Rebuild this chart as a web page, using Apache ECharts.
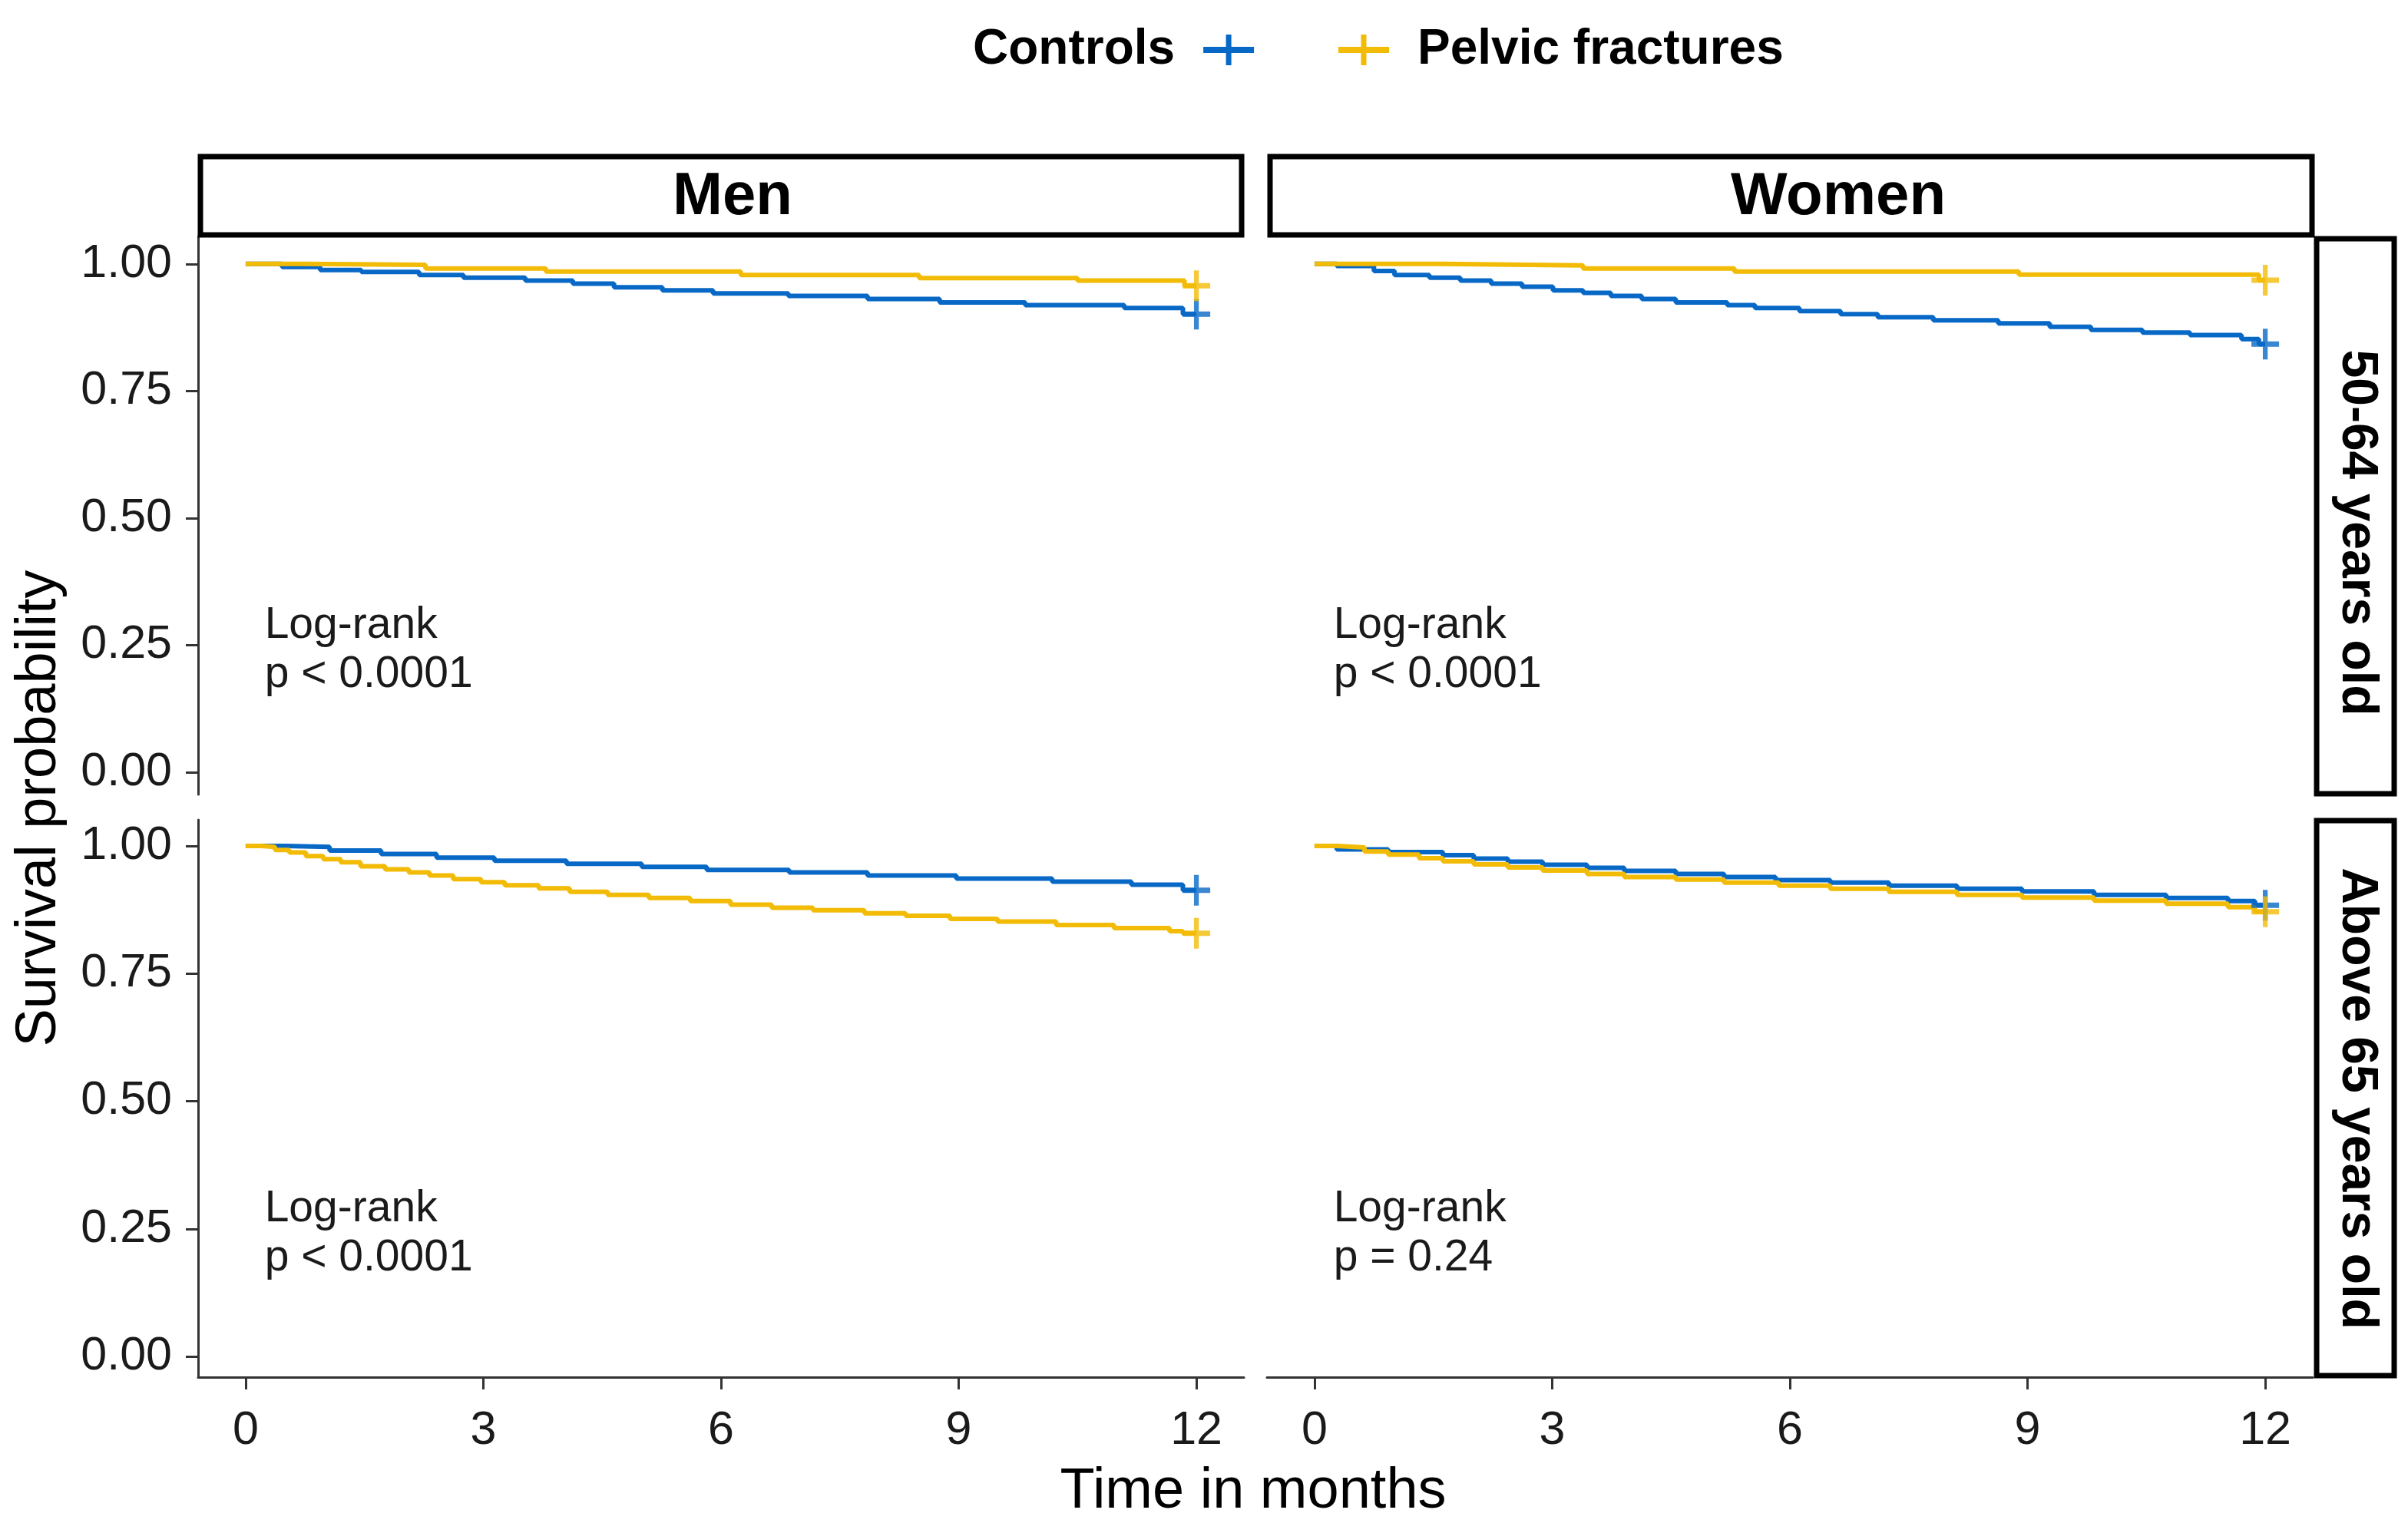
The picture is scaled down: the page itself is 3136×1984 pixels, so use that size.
<!DOCTYPE html>
<html><head><meta charset="utf-8">
<script src="https://cdn.jsdelivr.net/npm/echarts@6/dist/echarts.min.js"></script>
<style>html,body{margin:0;padding:0;background:#fff}#chart{width:3136px;height:1984px}</style>
</head><body><div id="chart"></div>
<script>
// ---------- data ----------
const timeTicks = [0, 3, 6, 9, 12];
const survTicks = [0, 0.25, 0.5, 0.75, 1];
const groupNames = ['Controls', 'Pelvic fractures'];
const sexLabels = ['Men', 'Women'];
const ageLabels = ['50-64 years old', 'Above 65 years old'];
const testLabel = 'Log-rank';
const pValues = ['p < 0.0001', 'p < 0.0001', 'p < 0.0001', 'p = 0.24'];

// Men, 50-64
const men5064CtrlTime = [0, 0.46, 0.94, 1.46, 2.19, 2.75, 3.53, 4.13, 4.65, 5.26, 5.9, 6.85, 7.85, 8.76, 9.84, 11.09, 11.83, 12];
const men5064CtrlSurv = [1.0, 0.994, 0.988, 0.984, 0.978, 0.973, 0.967, 0.961, 0.954, 0.948, 0.942, 0.937, 0.931, 0.924, 0.919, 0.913, 0.901, 0.901];
const men5064PelvTime = [0, 0.72, 2.27, 3.79, 6.25, 8.5, 10.5, 11.85, 12];
const men5064PelvSurv = [1.0, 0.998, 0.991, 0.985, 0.978, 0.972, 0.967, 0.957, 0.957];
// Women, 50-64
const wom5064CtrlTime = [0, 0.28, 0.75, 1.01, 1.45, 1.84, 2.23, 2.62, 3.01, 3.39, 3.74, 4.13, 4.56, 5.21, 5.56, 6.12, 6.64, 7.11, 7.81, 8.63, 9.28, 9.80, 10.45, 11.05, 11.70, 11.92, 12];
const wom5064CtrlSurv = [1.0, 0.996, 0.986, 0.978, 0.973, 0.967, 0.961, 0.955, 0.948, 0.943, 0.937, 0.931, 0.924, 0.919, 0.913, 0.907, 0.901, 0.895, 0.889, 0.883, 0.876, 0.870, 0.865, 0.860, 0.852, 0.842, 0.842];
const wom5064PelvTime = [0, 1.58, 3.39, 5.3, 8.89, 11.92, 12];
const wom5064PelvSurv = [1.0, 0.997, 0.991, 0.985, 0.979, 0.968, 0.968];
// Men, above 65
const men65CtrlTime = [0, 0.5, 1.06, 1.71, 2.41, 3.14, 4.05, 5.0, 5.82, 6.86, 7.85, 8.97, 10.18, 11.18, 11.83, 12];
const men65CtrlSurv = [1.0, 0.998, 0.991, 0.984, 0.977, 0.971, 0.965, 0.959, 0.953, 0.948, 0.942, 0.936, 0.930, 0.924, 0.913, 0.913];
const men65PelvTime = [0, 0.20, 0.37, 0.55, 0.76, 0.98, 1.20, 1.45, 1.76, 2.06, 2.32, 2.62, 2.97, 3.27, 3.70, 4.09, 4.57, 5.09, 5.61, 6.12, 6.64, 7.16, 7.81, 8.33, 8.89, 9.49, 10.23, 10.96, 11.66, 11.83, 12];
const men65PelvSurv = [1.0, 0.998, 0.992, 0.987, 0.980, 0.974, 0.968, 0.960, 0.954, 0.948, 0.942, 0.935, 0.929, 0.923, 0.917, 0.910, 0.904, 0.898, 0.892, 0.885, 0.879, 0.874, 0.868, 0.863, 0.857, 0.852, 0.845, 0.839, 0.833, 0.829, 0.829];
// Women, above 65
const wom65CtrlTime = [0, 0.28, 0.93, 1.62, 2.01, 2.44, 2.88, 3.44, 3.91, 4.56, 5.17, 5.82, 6.51, 7.25, 8.11, 8.93, 9.84, 10.75, 11.53, 11.87, 12];
const wom65CtrlSurv = [1.0, 0.993, 0.988, 0.982, 0.975, 0.969, 0.963, 0.957, 0.951, 0.945, 0.939, 0.933, 0.928, 0.922, 0.916, 0.911, 0.904, 0.898, 0.892, 0.884, 0.884];
const wom65PelvTime = [0, 0.28, 0.63, 0.93, 1.32, 1.62, 2.01, 2.44, 2.88, 3.44, 3.91, 4.56, 5.17, 5.86, 6.51, 7.25, 8.11, 8.93, 9.84, 10.75, 11.53, 11.87, 12];
const wom65PelvSurv = [1.0, 0.997, 0.989, 0.983, 0.976, 0.970, 0.964, 0.958, 0.952, 0.945, 0.939, 0.934, 0.928, 0.922, 0.916, 0.910, 0.904, 0.899, 0.893, 0.887, 0.880, 0.871, 0.871];

// ---------- layout / style ----------
const FONT = '"Liberation Sans", Arial, sans-serif';
const COLORS = ['#0868C6', '#F2BB05'];
const AXIS_COLOR = '#333333';
const gridBoxes = [
  {left: 258, top: 308, width: 1362, height: 727},
  {left: 1650, top: 308, width: 1362, height: 727},
  {left: 258, top: 1068, width: 1362, height: 726},
  {left: 1650, top: 1068, width: 1362, height: 726}
];
const yRanges = [[-0.044, 1.054], [-0.044, 1.054], [-0.04, 1.051], [-0.04, 1.051]];
const panelCurves = [
  [[men5064CtrlTime, men5064CtrlSurv], [men5064PelvTime, men5064PelvSurv]],
  [[wom5064CtrlTime, wom5064CtrlSurv], [wom5064PelvTime, wom5064PelvSurv]],
  [[men65CtrlTime, men65CtrlSurv], [men65PelvTime, men65PelvSurv]],
  [[wom65CtrlTime, wom65CtrlSurv], [wom65PelvTime, wom65PelvSurv]]
];
const plusPath = 'path://M0,16.5h16.5v-16.5h7v16.5h16.5v7h-16.5v16.5h-7v-16.5h-16.5z';
const legendPath = 'path://M0,16h29.5v-16h7v16h29.5v8h-29.5v16h-7v-16h-29.5z';

const pairs = (t, s) => t.map((x, i) => [x, s[i]]);

const xAxes = [], yAxes = [], series = [];
gridBoxes.forEach((g, i) => {
  const bottomRow = i >= 2, leftCol = i % 2 === 0;
  xAxes.push({
    type: 'value', gridIndex: i, min: -0.6, max: 12.6,
    axisLine: {show: bottomRow, onZero: false, lineStyle: {color: AXIS_COLOR, width: 3}},
    axisTick: {show: bottomRow, customValues: timeTicks, length: 16, lineStyle: {color: AXIS_COLOR, width: 3}},
    axisLabel: {show: bottomRow, customValues: timeTicks, fontSize: 61, fontFamily: FONT, color: '#1a1a1a', margin: 40},
    splitLine: {show: false}
  });
  yAxes.push({
    type: 'value', gridIndex: i, min: yRanges[i][0], max: yRanges[i][1],
    axisLine: {show: leftCol, onZero: false, lineStyle: {color: AXIS_COLOR, width: 3}},
    axisTick: {show: leftCol, customValues: survTicks, length: 16, lineStyle: {color: AXIS_COLOR, width: 3}},
    axisLabel: {show: leftCol, customValues: survTicks, fontSize: 61, fontFamily: FONT, color: '#1a1a1a', margin: 34,
      formatter: v => v.toFixed(2)},
    splitLine: {show: false}
  });
  panelCurves[i].forEach((c, k) => {
    const d = pairs(c[0], c[1]);
    series.push({
      name: groupNames[k], type: 'line', xAxisIndex: i, yAxisIndex: i,
      step: 'end', symbol: 'none', data: d, z: 2 + k,
      color: COLORS[k], lineStyle: {color: COLORS[k], width: 6}, itemStyle: {color: COLORS[k]},
      emphasis: {disabled: true}
    });
    series.push({
      name: groupNames[k], type: 'scatter', xAxisIndex: i, yAxisIndex: i,
      data: [d[d.length - 1]], symbol: plusPath, symbolSize: [36, 40], z: 4 + k,
      color: COLORS[k], itemStyle: {color: COLORS[k]}, emphasis: {disabled: true}
    });
  });
});

const chart = echarts.init(document.getElementById('chart'), null, {renderer: 'canvas'});
const legendText = {fontSize: 64, fontWeight: 'bold', fontFamily: FONT, color: '#000'};
chart.setOption({
  animation: false,
  backgroundColor: '#fff',
  grid: gridBoxes.map(g => Object.assign({containLabel: false}, g)),
  xAxis: xAxes, yAxis: yAxes, series: series,
  legend: [
    {data: [groupNames[0]], left: 1262, top: 28, align: 'right', icon: legendPath, itemWidth: 66, itemHeight: 40,
      selectedMode: false, textStyle: Object.assign({padding: [0, 32, 0, 0]}, legendText)},
    {data: [groupNames[1]], left: 1738, top: 28, align: 'left', icon: legendPath, itemWidth: 66, itemHeight: 40,
      selectedMode: false, textStyle: Object.assign({padding: [0, 0, 0, 32]}, legendText)}
  ]
});

// ---------- graphic: strips, titles, annotations ----------
const graphics = [];
const stripStyle = {fill: '#fff', stroke: '#000', lineWidth: 7};
const topStrips = [{x: 261, y: 204, width: 1356, height: 102}, {x: 1654, y: 204, width: 1357, height: 102}];
const topTextX = [954, 2394];
topStrips.forEach((r, i) => {
  graphics.push({type: 'rect', shape: r, style: stripStyle, z: 10});
  graphics.push({type: 'text', x: topTextX[i], y: r.y + r.height / 2 + 2, z: 11,
    style: {text: sexLabels[i], fill: '#000', fontSize: 78, fontWeight: 'bold', fontFamily: FONT, align: 'center', verticalAlign: 'middle'}});
});
const sideStrips = [{x: 3017, y: 311, width: 101, height: 723}, {x: 3017, y: 1069, width: 101, height: 723}];
const sideTextY = [694, 1431];
sideStrips.forEach((r, i) => {
  graphics.push({type: 'rect', shape: r, style: stripStyle, z: 10});
  graphics.push({type: 'text', x: r.x + r.width / 2 + 2, y: sideTextY[i], rotation: -Math.PI / 2, z: 11,
    style: {text: ageLabels[i], fill: '#000', fontSize: 66, fontWeight: 'bold', fontFamily: FONT, align: 'center', verticalAlign: 'middle'}});
});
graphics.push({type: 'text', x: 52, y: 1053, rotation: Math.PI / 2, z: 11,
  style: {text: 'Survival probability', fill: '#000', fontSize: 74, fontFamily: FONT, align: 'center', verticalAlign: 'middle'}});
graphics.push({type: 'text', x: 1632, y: 1944, z: 11,
  style: {text: 'Time in months', fill: '#000', fontSize: 74, fontFamily: FONT, align: 'center', verticalAlign: 'middle'}});
gridBoxes.forEach((g, i) => {
  const p = chart.convertToPixel({gridIndex: i}, [0.24, 0.24]);
  graphics.push({type: 'text', x: p[0], y: p[1], z: 11,
    style: {text: testLabel + '\n' + pValues[i], fill: '#1a1a1a', fontSize: 57, lineHeight: 64, fontFamily: FONT, align: 'left', verticalAlign: 'middle'}});
});
chart.setOption({graphic: graphics});
</script>
</body></html>
